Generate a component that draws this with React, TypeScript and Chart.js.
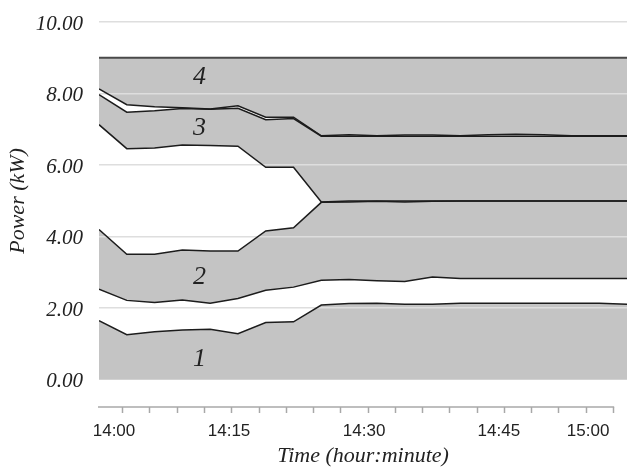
import React, { useEffect, useRef } from 'react';
import { Chart, registerables } from 'chart.js';

Chart.register(...registerables);

// sample index (evenly spaced samples along the time axis)
const sampleIdx = [0, 1, 2, 3, 4, 5, 6, 7, 8, 9, 10, 11, 12, 13, 14, 15, 16, 17, 18, 19];

// boundaries of the stacked bands (kW)
const band1Top = [1.65, 1.26, 1.34, 1.39, 1.41, 1.29, 1.6, 1.62, 2.09, 2.13, 2.14, 2.11, 2.11, 2.14, 2.14, 2.14, 2.14, 2.14, 2.14, 2.11];
const band2Bottom = [2.53, 2.22, 2.16, 2.23, 2.14, 2.27, 2.5, 2.59, 2.78, 2.8, 2.77, 2.75, 2.87, 2.83, 2.83, 2.83, 2.83, 2.83, 2.83, 2.83];
const band2Top = [4.2, 3.51, 3.51, 3.63, 3.6, 3.6, 4.16, 4.25, 4.96, 4.97, 4.99, 4.97, 4.99, 5.0, 5.0, 5.0, 5.0, 5.0, 5.0, 5.0];
const band3Bottom = [7.13, 6.46, 6.48, 6.56, 6.55, 6.53, 5.94, 5.94, 4.97, 5.0, 5.0, 5.0, 5.0, 5.0, 5.0, 5.0, 5.0, 5.0, 5.0, 5.0];
const band3Top = [7.97, 7.48, 7.52, 7.58, 7.56, 7.59, 7.27, 7.3, 6.81, 6.81, 6.81, 6.81, 6.81, 6.81, 6.81, 6.81, 6.81, 6.81, 6.81, 6.81];
const band4Bottom = [8.13, 7.69, 7.63, 7.6, 7.57, 7.66, 7.34, 7.34, 6.82, 6.85, 6.82, 6.84, 6.84, 6.82, 6.85, 6.86, 6.85, 6.82, 6.82, 6.82];
const band4Top = [9.0, 9.0, 9.0, 9.0, 9.0, 9.0, 9.0, 9.0, 9.0, 9.0, 9.0, 9.0, 9.0, 9.0, 9.0, 9.0, 9.0, 9.0, 9.0, 9.0];

// band annotations
const bandNames = ['1', '2', '3', '4'];
const bandNameY = [0.59, 2.88, 7.04, 8.46];
const bandNameX = 3.62;

// axis ticks and titles
const yTickValues = [0, 2, 4, 6, 8, 10];
const yTitle = 'Power (kW)';
const yTitleAt = 5;
const xTitle = 'Time (hour:minute)';
const timeLabels = ['14:00', '14:15', '14:30', '14:45', '15:00'];
const timeLabelAt = [0.54, 4.68, 9.54, 14.39, 17.6];
const minorTickStart = 0.853;
const minorTickStep = 0.981;
const minorTickCount = 19;

const GRAY = '#c4c4c4';
const LINE = '#1c1c1c';
const TEXT = '#222';
const SERIF = "'Liberation Serif', 'DejaVu Serif', serif";

export default function App() {
  const ref = useRef<HTMLCanvasElement>(null);

  useEffect(() => {
    const mk = (ys: number[]) => ys.map((y, i) => ({ x: sampleIdx[i], y }));
    const base = { pointRadius: 0, borderColor: LINE, borderWidth: 1.5, tension: 0 };

    const xTicks: any[] = [];
    for (let k = 0; k < minorTickCount; k++) xTicks.push({ value: minorTickStart + k * minorTickStep });
    timeLabels.forEach((t, i) => xTicks.push({ value: timeLabelAt[i], lab: t }));
    xTicks.sort((a, b) => a.value - b.value);

    const bandLabelPlugin = {
      id: 'bandLabels',
      afterDatasetsDraw(chart: any) {
        const { ctx, scales } = chart;
        ctx.save();
        ctx.fillStyle = TEXT;
        ctx.font = `italic 26px ${SERIF}`;
        ctx.textAlign = 'center';
        ctx.textBaseline = 'middle';
        bandNames.forEach((n, i) => {
          ctx.fillText(n, scales.x.getPixelForValue(bandNameX), scales.y.getPixelForValue(bandNameY[i]));
        });
        ctx.restore();
      },
    };

    const axisPlugin = {
      id: 'axisExtras',
      afterDraw(chart: any) {
        const { ctx, scales, chartArea } = chart;
        const last = minorTickStart + (minorTickCount - 1) * minorTickStep;
        ctx.save();
        ctx.strokeStyle = '#a8a8a8';
        ctx.lineWidth = 1.5;
        ctx.beginPath();
        ctx.moveTo(chartArea.left - 1, chartArea.bottom);
        ctx.lineTo(scales.x.getPixelForValue(last) + 0.75, chartArea.bottom);
        ctx.stroke();
        // y axis title
        ctx.translate(scales.y.left + 18, scales.y.getPixelForValue(yTitleAt));
        ctx.rotate(-Math.PI / 2);
        ctx.fillStyle = TEXT;
        ctx.font = `italic 22px ${SERIF}`;
        ctx.textAlign = 'center';
        ctx.textBaseline = 'middle';
        ctx.fillText(yTitle, 0, 0);
        ctx.restore();
      },
    };

    const chart = new Chart(ref.current!, {
      type: 'line',
      data: {
        datasets: [
          { ...base, data: mk(band1Top), fill: 'origin', backgroundColor: GRAY },
          { ...base, data: mk(band2Bottom), fill: false },
          { ...base, data: mk(band2Top), fill: '-1', backgroundColor: GRAY },
          { ...base, data: mk(band3Bottom), fill: false },
          { ...base, data: mk(band3Top), fill: '-1', backgroundColor: GRAY },
          { ...base, data: mk(band4Bottom), fill: false },
          { ...base, data: mk(band4Top), fill: '-1', backgroundColor: GRAY, borderColor: '#4a4a4a', borderWidth: 2 },
        ] as any,
      },
      options: {
        animation: false,
        responsive: true,
        maintainAspectRatio: false,
        layout: { padding: { top: 22, right: 5, left: 0, bottom: 0 } },
        plugins: {
          legend: { display: false },
          tooltip: { enabled: false },
          filler: { drawTime: 'beforeDraw', propagate: false } as any,
        },
        scales: {
          x: {
            type: 'linear',
            min: 0,
            max: 19,
            afterBuildTicks: (s: any) => { s.ticks = xTicks.map((t) => ({ ...t })); },
            afterFit: (s: any) => { s.height = 62; },
            ticks: {
              autoSkip: false,
              maxRotation: 0,
              minRotation: 0,
              padding: 8,
              color: TEXT,
              font: { family: "'Liberation Sans', Arial, sans-serif", size: 17 },
              callback: (_v: any, i: number, ticks: any[]) => (ticks[i] && ticks[i].lab) || '',
            },
            grid: {
              drawOnChartArea: false,
              tickLength: 6,
              tickWidth: 1.5,
              tickColor: (c: any) => (c.tick && c.tick.lab ? 'rgba(0,0,0,0)' : '#a8a8a8'),
            },
            border: { display: false },
            title: {
              display: true,
              text: xTitle,
              color: TEXT,
              font: { family: SERIF, size: 22, style: 'italic' },
              padding: 0,
            },
          },
          y: {
            min: -0.76,
            max: 10,
            afterBuildTicks: (s: any) => { s.ticks = yTickValues.map((v) => ({ value: v })); },
            afterFit: (s: any) => { s.width = 99; },
            ticks: {
              padding: 0,
              labelOffset: 2,
              color: TEXT,
              font: { family: SERIF, size: 21, style: 'italic' },
              callback: (v: any) => Number(v).toFixed(2),
            },
            grid: {
              drawTicks: true,
              tickLength: 16,
              tickColor: 'rgba(0,0,0,0)',
              lineWidth: 1.5,
              color: (c: any) => (c.tick && c.tick.value === 0 ? 'rgba(0,0,0,0)' : '#dedede'),
            },
            border: { display: false },
            title: { display: false },
          },
        },
      } as any,
      plugins: [bandLabelPlugin, axisPlugin],
    });
    return () => chart.destroy();
  }, []);

  return (
    <div style={{ position: 'absolute', left: 0, top: 0, width: 632, height: 469 }}>
      <canvas ref={ref} />
    </div>
  );
}
